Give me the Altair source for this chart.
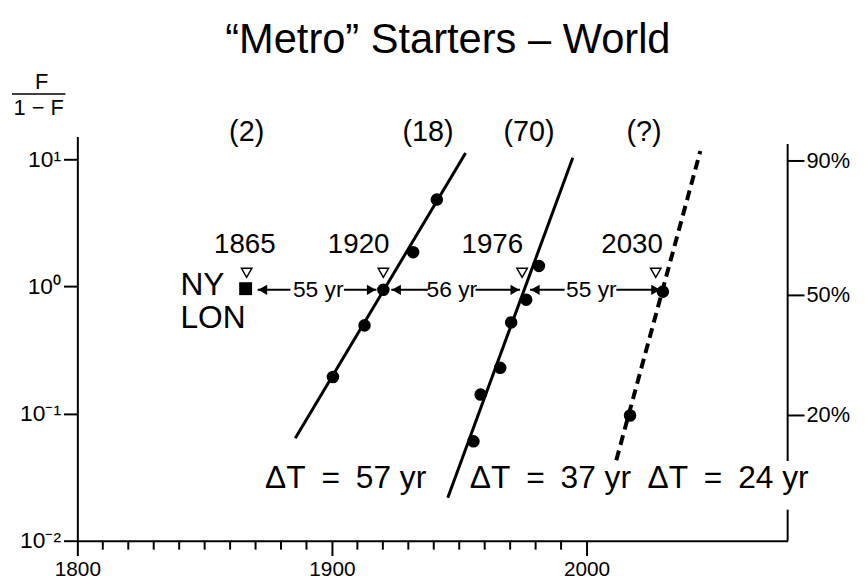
import altair as alt
import pandas as pd

FONT = "Liberation Sans"

# ---------------- data ----------------
major_years = [1800, 1900, 2000]
minor_years = [1810, 1820, 1830, 1840, 1850, 1860, 1870, 1880, 1890,
               1910, 1920, 1930, 1940, 1950, 1960, 1970, 1980, 1990]
y_ticks = [0.01, 0.1, 1, 10]

# right-hand percentage scale (tick positions as read on the left scale)
right_ticks = [9.7, 0.85, 0.0966]
right_labels = ["90%", "50%", "20%"]
right_line_from = [13.2, 0.01755]
right_line_to = [0.0423, 0.01]

# fitted lines (end points)
line18_year = [1885.6, 1952.5]
line18_val = [0.064, 11.2]
line70_year = [1945.5, 1994.6]
line70_val = [0.0218, 10.3]
lineq_year = [2011.7, 2044.7]
lineq_val = [0.043, 11.6]

# observed points
pts18_year = [1900.4, 1912.8, 1920.2, 1931.9, 1941.2]
pts18_val = [0.194, 0.494, 0.94, 1.86, 4.82]
pts70_year = [1955.6, 1958.4, 1966.1, 1970.4, 1976.3, 1981.3]
pts70_val = [0.0605, 0.141, 0.229, 0.521, 0.787, 1.45]
ptsq_year = [2017.1, 2030.0]
ptsq_val = [0.0966, 0.91]
ny_year = [1866.1]
ny_val = [0.96]

# midpoint markers (open triangles)
marker_year = [1866.5, 1920.2, 1974.7, 2027.2]
marker_val = [1.28, 1.28, 1.28, 1.28]

# annotations
year_labels = ["1865", "1920", "1976", "2030"]
year_label_x = [1865.8, 1910.5, 1963.0, 2017.9]
year_label_val = [2.11, 2.11, 2.11, 2.11]

count_labels = ["(2)", "(18)", "(70)", "(?)"]
count_label_x = [1866.5, 1937.7, 1977.4, 2022.6]
count_label_val = [16.3, 16.3, 16.3, 16.3]

dt_labels = ["ΔT\u2002=\u200257 yr", "ΔT\u2002=\u200237 yr", "ΔT\u2002=\u200224 yr"]
dt_label_x = [1905.4, 1985.8, 2055.6]
dt_label_val = [0.0312, 0.0312, 0.0312]

gap_labels = ["55 yr", "56 yr", "55 yr"]
gap_label_x = [1894.6, 1947.1, 2001.9]
gap_val = 0.94

seg_from = [1870.8, 1904.7, 1923.3, 1956.4, 1977.8, 2011.7]
seg_to = [1883.7, 1917.5, 1937.7, 1973.9, 1991.4, 2029.2]
head_left = [1872.8, 1925.3, 1979.8]
head_right = [1915.5, 1971.9, 2027.2]

city_labels = ["NY", "LON"]
city_x = [1840.5, 1840.5]
city_val = [1.03, 0.56]

# ---------------- scales & axes ----------------
xs = alt.Scale(domain=[1800, 2079], nice=False, zero=False)
ys = alt.Scale(type="log", domain=[0.01, 15.1], nice=False)

x_axis = alt.Axis(values=major_years, format="d", title=None, grid=False,
                  tickSize=15, tickWidth=2, tickColor="black",
                  domainWidth=2, domainColor="black",
                  labelFont=FONT, labelFontSize=21, labelColor="black",
                  labelPadding=3, labelFlush=False, labelOverlap=False)
y_axis = alt.Axis(values=y_ticks, title=None, grid=False,
                  labelExpr="datum.value < 0.05 ? '10⁻²' : datum.value < 0.5 ? '10⁻¹' : datum.value < 5 ? '10⁰' : '10¹'",
                  tickSize=14, tickWidth=2, tickColor="black",
                  domainWidth=2, domainColor="black",
                  labelFont=FONT, labelFontSize=23, labelColor="black",
                  labelPadding=3, labelOverlap=False, labelBound=False)

XA = alt.X("year:Q", scale=xs, axis=x_axis)
YA = alt.Y("val:Q", scale=ys, axis=y_axis)


def df(**cols):
    return pd.DataFrame(cols)


l18 = alt.Chart(df(year=line18_year, val=line18_val)).mark_line(
    color="black", strokeWidth=3).encode(x=XA, y=YA)
l70 = alt.Chart(df(year=line70_year, val=line70_val)).mark_line(
    color="black", strokeWidth=3).encode(x=XA, y=YA)
lq = alt.Chart(df(year=lineq_year, val=lineq_val)).mark_line(
    color="black", strokeWidth=4, strokeDash=[10, 6]).encode(x=XA, y=YA)

pts = alt.Chart(df(year=pts18_year + pts70_year + ptsq_year,
                   val=pts18_val + pts70_val + ptsq_val)).mark_circle(
    color="black", size=160, opacity=1).encode(x=XA, y=YA)
sq = alt.Chart(df(year=ny_year, val=ny_val)).mark_point(
    shape="square", filled=True, color="black", size=170, opacity=1).encode(x=XA, y=YA)
tri = alt.Chart(df(year=marker_year, val=marker_val)).mark_point(
    shape="triangle-down", filled=False, color="black", strokeWidth=1.5,
    size=110, opacity=1).encode(x=XA, y=YA)

minor = alt.Chart(df(year=minor_years)).mark_rule(color="black", strokeWidth=2).encode(
    x=XA, y=alt.value(408), y2=alt.value(417))

segs = alt.Chart(df(a=seg_from, b=seg_to, val=[gap_val] * 6)).mark_rule(
    color="black", strokeWidth=2).encode(
    x=alt.X("a:Q", scale=xs, axis=x_axis), x2="b:Q", y=YA)
hl = alt.Chart(df(year=head_left, val=[gap_val] * 3)).mark_point(
    shape="triangle-left", filled=True, color="black", size=110, opacity=1).encode(x=XA, y=YA)
hr = alt.Chart(df(year=head_right, val=[gap_val] * 3)).mark_point(
    shape="triangle-right", filled=True, color="black", size=110, opacity=1).encode(x=XA, y=YA)

# right-hand percentage axis
r_line = alt.Chart(df(val=right_line_from, val2=right_line_to)).mark_rule(
    color="black", strokeWidth=2).encode(x=alt.value(717), y=YA, y2="val2:Q")
r_ticks = alt.Chart(df(val=right_ticks)).mark_rule(color="black", strokeWidth=2).encode(
    x=alt.value(717), x2=alt.value(734), y=YA)
r_labels = alt.Chart(df(val=right_ticks, label=right_labels)).mark_text(
    font=FONT, fontSize=22, align="left", baseline="middle", color="black").encode(
    x=alt.value(736), y=YA, text="label:N")


def texts(labels, xv, vv, size, align="center"):
    return alt.Chart(df(year=xv, val=vv, label=labels)).mark_text(
        font=FONT, fontSize=size, align=align, baseline="middle", color="black").encode(
        x=XA, y=YA, text="label:N")


t_year = texts(year_labels, year_label_x, year_label_val, 28)
t_count = texts(count_labels, count_label_x, count_label_val, 29)
t_gap = texts(gap_labels, gap_label_x, [gap_val] * 3, 23)
t_city = texts(city_labels, city_x, city_val, 32, align="left")
t_dt = texts(dt_labels, dt_label_x, dt_label_val, 32)

one = df(k=[0])
title = alt.Chart(one).mark_text(font=FONT, fontSize=42, color="black",
                                 baseline="middle", align="center",
                                 text="“Metro” Starters – World").encode(
    x=alt.value(374), y=alt.value(-97))
frac_top = alt.Chart(one).mark_text(font=FONT, fontSize=22, color="black",
                                    baseline="middle", align="center", text="F").encode(
    x=alt.value(-36), y=alt.value(-55))
frac_bot = alt.Chart(one).mark_text(font=FONT, fontSize=22, color="black",
                                    baseline="middle", align="center", text="1 − F").encode(
    x=alt.value(-39), y=alt.value(-29))
frac_bar = alt.Chart(one).mark_rule(color="black", strokeWidth=1.5).encode(
    x=alt.value(-66), x2=alt.value(-12), y=alt.value(-43))

chart = alt.layer(l18, l70, lq, pts, sq, tri, minor, segs, hl, hr,
                  r_line, r_ticks, r_labels,
                  t_year, t_count, t_gap, t_city, t_dt,
                  title, frac_top, frac_bot, frac_bar).properties(
    width=717, height=408,
    padding={"left": 70, "top": 127, "right": 70, "bottom": 44},
    autosize=alt.AutoSizeParams(type="none"),
    background="white",
).configure_view(stroke=None)

chart.save("out.html", embed_options={"renderer": "svg", "actions": False})
